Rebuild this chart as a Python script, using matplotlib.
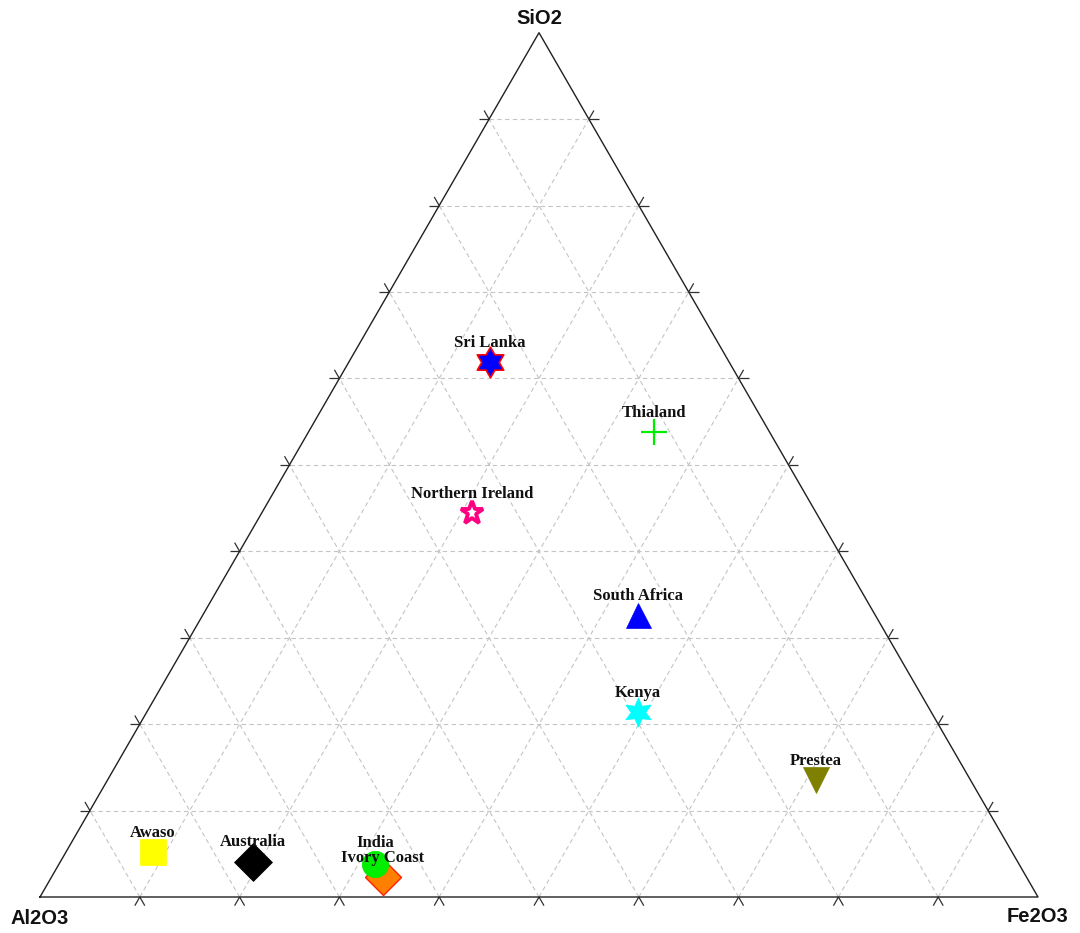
import numpy as np
import matplotlib
matplotlib.use("Agg")
import matplotlib.pyplot as plt
from matplotlib.path import Path

# Composition of each sample (weight %)
sites = ["Awaso", "Australia", "India", "Ivory Coast", "Sri Lanka", "Thialand",
         "Northern Ireland", "South Africa", "Kenya", "Prestea"]
sio2 = [5.2, 4.1, 3.8, 2.3, 61.9, 53.8, 44.4, 32.6, 21.4, 13.5]
fe2o3 = [8.7, 19.3, 31.7, 33.2, 14.1, 34.6, 21.1, 43.6, 49.2, 71.0]
al2o3 = [100 - s - f for s, f in zip(sio2, fe2o3)]

corner_labels = ["SiO2", "Al2O3", "Fe2O3"]

H = np.sqrt(3) / 2
hexagram = Path.unit_regular_star(6, 1 / np.sqrt(3))
six_star = Path.unit_regular_star(6, 0.5)

styles = {
    "Awaso":            dict(marker="s", ms=19, mfc="#ffff00", mec="#ffff00", mew=0.5, z=5),
    "Australia":        dict(marker="D", ms=19, mfc="black", mec="black", mew=0.5, z=5),
    "Ivory Coast":      dict(marker="D", ms=18.5, mfc="#ff8000", mec="#ff2000", mew=1.0, z=5),
    "India":            dict(marker="o", ms=19, mfc="#00ee00", mec="#00ee00", mew=0.5, z=5.5),
    "Sri Lanka":        dict(marker=hexagram, ms=22, mfc="#0000ff", mec="#ff0000", mew=1.2, z=5),
    "Thialand":         dict(marker="+", ms=19, mfc="#00ee00", mec="#00ee00", mew=1.6, z=5),
    "Northern Ireland": dict(marker="*", ms=17, mfc="white", mec="#ff0080", mew=2.8, z=5),
    "South Africa":     dict(marker="^", ms=18, mfc="#0000ff", mec="#0000ff", mew=0.5, z=5),
    "Kenya":            dict(marker=six_star, ms=21, mfc="#00ffff", mec="#00ffff", mew=0.5, z=5),
    "Prestea":          dict(marker="v", ms=19, mfc="#808000", mec="#808000", mew=0.5, z=5),
}
# label lift above the marker centre (points)
label_lift = {"India": 15.0, "Ivory Coast": 13.5}


def to_xy(si, fe):
    si = np.asarray(si) / 100.0
    fe = np.asarray(fe) / 100.0
    return fe + si / 2, si * H


W, Hpx = 1080, 933
fig = plt.figure(figsize=(W / 100, Hpx / 100), dpi=100)
ax = fig.add_axes([0, 0, 1, 1])
scale = 998.0
x0, ybase = 40.0, 36.0
ax.set_xlim(-x0 / scale, (W - x0) / scale)
ax.set_ylim(-ybase / scale, (Hpx - ybase) / scale)
ax.axis("off")

# Grid lines every 10 % plus short ticks outside the triangle
tick_len = 0.010
for i in range(1, 10):
    t = i / 10
    segs = [
        ((t / 2, t * H), (1 - t / 2, t * H)),            # constant SiO2
        ((t, 0), (t + (1 - t) / 2, (1 - t) * H)),        # constant Fe2O3
        ((1 - t, 0), ((1 - t) / 2, (1 - t) * H)),        # constant Al2O3
    ]
    for p, q in segs:
        p, q = np.array(p), np.array(q)
        ax.plot([p[0], q[0]], [p[1], q[1]], color="#c4c4c4", lw=0.8,
                ls=(0, (4, 3)), zorder=1)
        d = (q - p) / np.linalg.norm(q - p)
        for a, b in ((p, p - d * tick_len), (q, q + d * tick_len)):
            ax.plot([a[0], b[0]], [a[1], b[1]], color="#303030", lw=0.9,
                    zorder=2, solid_capstyle="butt")

# Triangle outline
ax.plot([0, 1, 0.5, 0], [0, 0, H, 0], color="#202020", lw=1.0, zorder=3)

# Corner labels
lab_kw = dict(fontsize=14.5, fontweight="bold", family="Liberation Sans",
              ha="center", va="center", color="#111111")
ax.text(0.5, H + 14 / scale, corner_labels[0], **lab_kw)
ax.text(0.0, -22 / scale, corner_labels[1], **lab_kw)
ax.text(1.0, -20 / scale, corner_labels[2], **lab_kw)

# Samples
xs, ys = to_xy(sio2, fe2o3)
for name, x, y in zip(sites, xs, ys):
    st = styles[name]
    ax.plot([x], [y], linestyle="none", marker=st["marker"], markersize=st["ms"],
            markerfacecolor=st["mfc"], markeredgecolor=st["mec"],
            markeredgewidth=st["mew"], zorder=st["z"])
for name, x, y in zip(sites, xs, ys):
    ax.annotate(name, (x, y), xytext=(0, label_lift.get(name, 14)),
                textcoords="offset points",
                ha="center", va="center", fontsize=12, fontweight="bold",
                family="Liberation Serif", color="#111111", zorder=6)

fig.savefig("out.png", dpi=100, facecolor="white")
